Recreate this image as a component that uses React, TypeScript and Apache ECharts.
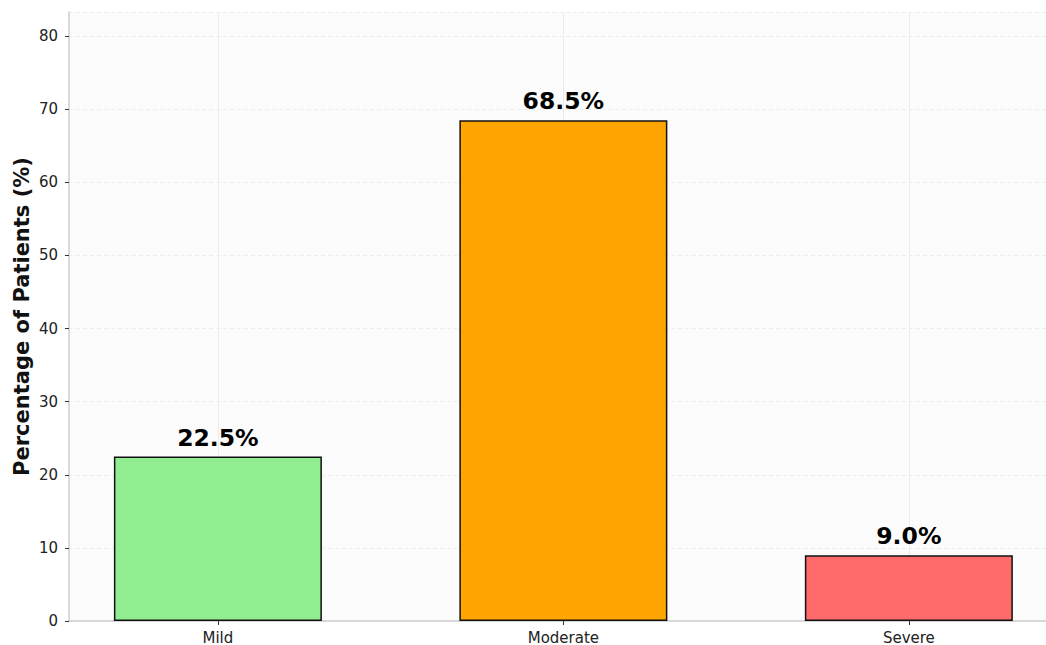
import React, { useEffect, useRef } from "react";
import * as echarts from "echarts";

const categories = ["Mild", "Moderate", "Severe"];
const percentages = [22.5, 68.5, 9.0];
const barColors = ["#90EE90", "#FFA500", "#FF6B6B"];
const yTicks = [0, 10, 20, 30, 40, 50, 60, 70, 80];

export default function App() {
  const ref = useRef<HTMLDivElement>(null);
  useEffect(() => {
    if (!ref.current) return;
    const chart = echarts.init(ref.current, null, { renderer: "svg" });
    const font = "DejaVu Sans";
    const positions = categories.map((_, i) => i);
    chart.setOption({
      animation: false,
      backgroundColor: "#ffffff",
      textStyle: { fontFamily: font },
      grid: {
        left: 69,
        right: 0,
        top: 12,
        bottom: 24,
        show: true,
        backgroundColor: "#fcfcfc",
        borderWidth: 0,
        containLabel: false,
      },
      xAxis: {
        type: "value",
        min: -0.431,
        max: 2.397,
        axisLine: {
          show: true,
          onZero: false,
          lineStyle: { color: "#cccccc", width: 1.5 },
        },
        axisTick: {
          show: true,
          customValues: positions,
          length: 4,
          lineStyle: { color: "#333333" },
        },
        axisLabel: {
          customValues: positions,
          formatter: (v: number) => categories[Math.round(v)] ?? "",
          color: "#222222",
          fontSize: 15,
          fontFamily: font,
          margin: 9,
        },
        splitLine: { show: false },
      },
      yAxis: {
        type: "value",
        min: 0,
        max: 83.3,
        interval: 10,
        name: "Percentage of Patients (%)",
        nameLocation: "middle",
        nameGap: 37,
        nameMoveOverlap: false,
        nameTextStyle: {
          fontSize: 21,
          fontWeight: "bold",
          color: "#111111",
          fontFamily: font,
        },
        axisLine: {
          show: true,
          onZero: false,
          lineStyle: { color: "#cccccc", width: 1.5 },
        },
        axisTick: { show: true, length: 4, lineStyle: { color: "#333333" } },
        axisLabel: {
          color: "#222222",
          fontSize: 15,
          fontFamily: font,
          margin: 11,
          showMaxLabel: false,
          formatter: (v: number) => (yTicks.includes(v) ? String(v) : ""),
        },
        splitLine: {
          show: true,
          lineStyle: { color: "#e8e8e8", type: [4, 3], width: 0.8 },
        },
      },
      series: [
        {
          type: "scatter",
          data: [],
          z: 1,
          silent: true,
          markLine: {
            silent: true,
            z: 1,
            symbol: "none",
            label: { show: false },
            lineStyle: { color: "#ececec", type: "solid", width: 1 },
            data: positions.map((p) => ({ xAxis: p })),
          },
        },
        {
          type: "bar",
          z: 3,
          barWidth: 208,
          data: percentages.map((v, i) => ({
            value: [i, v],
            itemStyle: {
              color: barColors[i],
              borderColor: "#111111",
              borderWidth: 1.5,
            },
          })),
          label: {
            show: true,
            position: "top",
            distance: 7,
            formatter: (p: any) => p.value[1].toFixed(1) + "%",
            fontSize: 23.5,
            fontWeight: "bold",
            color: "#000000",
            fontFamily: font,
          },
        },
      ],
    });
    return () => chart.dispose();
  }, []);
  return (
    <div
      ref={ref}
      style={{ position: "fixed", left: 0, top: 0, width: 1046, height: 645 }}
    />
  );
}
